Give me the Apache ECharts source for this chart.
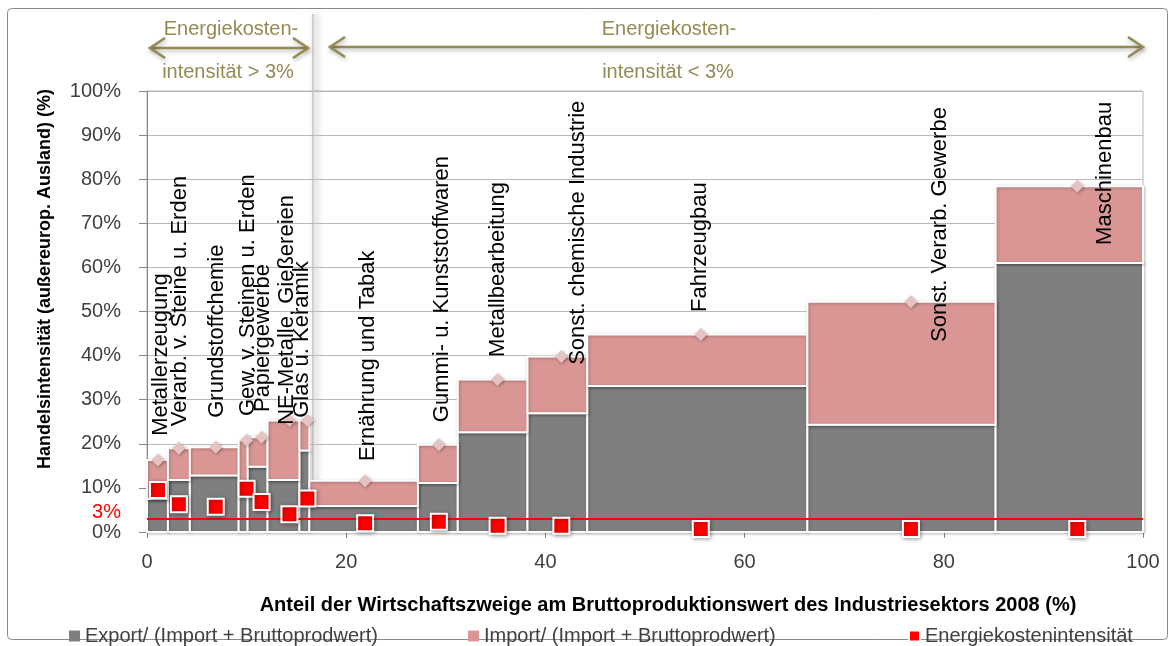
<!DOCTYPE html>
<html>
<head>
<meta charset="utf-8">
<script src="https://cdn.jsdelivr.net/npm/echarts@6/dist/echarts.min.js"></script>
<style>
  html, body { margin: 0; padding: 0; background: #fff; }
  #chart { width: 1175px; height: 646px; }
</style>
</head>
<body>
<div id="chart"></div>
<script>
// Wirtschaftszweige (in Reihenfolge von links nach rechts)
var sectors = [
  'Metallerzeugung', 'Verarb. v. Steine u. Erden', 'Grundstoffchemie',
  'Gew. v. Steinen u. Erden', 'Papiergewerbe', 'NE-Metalle, Gießereien',
  'Glas u. Keramik', 'Ernährung und Tabak', 'Gummi- u. Kunststoffwaren',
  'Metallbearbeitung', 'Sonst. chemische Industrie', 'Fahrzeugbau',
  'Sonst. Verarb. Gewerbe', 'Maschinenbau'
]
// Anteil am Bruttoproduktionswert (%) = Balkenbreite
var productionShare = [2.1, 2.2, 4.9, 0.9, 2.0, 3.2, 1.0, 10.9, 4.0, 7.0, 6.0, 22.1, 18.9, 14.8]
// Export/ (Import + Bruttoprodwert) (%)
var exportShare = [7.5, 11.8, 12.8, 9.5, 14.8, 11.8, 18.5, 5.9, 11.1, 22.6, 26.9, 33.1, 24.3, 61.0]
// Import/ (Import + Bruttoprodwert) (%)
var importShare = [8.8, 7.2, 6.4, 11.3, 6.7, 13.5, 6.8, 5.7, 8.7, 12.0, 12.9, 11.7, 27.9, 17.4]
// Energiekostenintensität (%)
var energyIntensity = [9.5, 6.3, 5.7, 9.8, 6.8, 4.0, 7.6, 2.0, 2.3, 1.4, 1.4, 0.7, 0.7, 0.7]
// x-Position der Punkte (Raute / Quadrat)
var markerX = [1.1, 3.2, 6.9, 10.0, 11.5, 14.3, 16.1, 21.9, 29.3, 35.2, 41.6, 55.6, 76.7, 93.4]
var threshold = 3

// Lage der gedrehten Beschriftungen (x, unteres Ende in %)
var labelAnchor = [
  [1.4, 21.8], [3.3, 24.0], [7.0, 25.9], [10.1, 26.3], [11.6, 27.2], [14.0, 24.3],
  [15.6, 25.9], [22.2, 16.1], [29.6, 24.9], [35.2, 39.7], [43.3, 37.9], [55.5, 49.9],
  [79.6, 43.1], [96.2, 65.1]
]

var FONT = 'Liberation Sans, Arial, sans-serif'
var OLIVE = '#948A54'
var names = ['Export/ (Import + Bruttoprodwert)', 'Import/ (Import + Bruttoprodwert)', 'Energiekostenintensität']

var exportData = []
var importData = []
var left = 0
for (var i = 0; i < productionShare.length; i++) {
  var right = left + productionShare[i]
  exportData.push([left, right, 0, exportShare[i]])
  importData.push([left, right, exportShare[i], exportShare[i] + importShare[i]])
  left = right
}
var totalData = markerX.map(function (x, i) { return [x, exportShare[i] + importShare[i]] })
var energyData = markerX.map(function (x, i) { return [x, energyIntensity[i]] })
var labelData = labelAnchor.map(function (p) { return [p[0], p[1]] })

function barItem (params, api) {
  var p0 = api.coord([api.value(0), api.value(3)])
  var p1 = api.coord([api.value(1), api.value(2)])
  return {
    type: 'rect',
    shape: { x: p0[0], y: p0[1], width: p1[0] - p0[0], height: p1[1] - p0[1] },
    style: {
      fill: api.visual('color'), stroke: '#fff', lineWidth: 2,
      shadowBlur: 3, shadowColor: 'rgba(0,0,0,0.25)', shadowOffsetX: 1, shadowOffsetY: 1
    }
  }
}

function labelItem (params, api) {
  var p = api.coord([api.value(0), api.value(1)])
  return {
    type: 'text',
    x: p[0], y: p[1], rotation: Math.PI / 2,
    style: {
      text: sectors[params.dataIndex], fill: '#000',
      font: '22px ' + FONT, align: 'left', verticalAlign: 'middle'
    }
  }
}

function arrow (x0, x1, y) {
  var s = { stroke: OLIVE, lineWidth: 2.5, fill: null, shadowBlur: 4, shadowColor: 'rgba(0,0,0,0.3)', shadowOffsetX: 1, shadowOffsetY: 2 }
  return [
    { type: 'line', shape: { x1: x0, y1: y, x2: x1, y2: y }, style: s },
    { type: 'polyline', shape: { points: [[x0 + 15, y - 10], [x0, y], [x0 + 15, y + 10]] }, style: s },
    { type: 'polyline', shape: { points: [[x1 - 15, y - 10], [x1, y], [x1 - 15, y + 10]] }, style: s }
  ]
}

function oliveText (text, x, y) {
  return { type: 'text', x: x, y: y, style: { text: text, fill: OLIVE, font: '20px ' + FONT, align: 'center', verticalAlign: 'middle' } }
}

var legendText = { fontSize: 20, color: '#404040', fontFamily: FONT }

var chart = echarts.init(document.getElementById('chart'))
chart.setOption({
  animation: false,
  backgroundColor: '#fff',
  grid: { left: 147, right: 32, top: 91, bottom: 114, show: true, borderColor: '#b5b5b5', borderWidth: 1 },
  xAxis: {
    type: 'value', min: 0, max: 100, interval: 20,
    axisLine: { show: true, lineStyle: { color: '#868686' } },
    axisTick: { show: true, length: 6, lineStyle: { color: '#868686' } },
    splitLine: { show: false },
    axisLabel: { fontSize: 20, color: '#404040', fontFamily: FONT, margin: 20 }
  },
  yAxis: {
    type: 'value', min: 0, max: 100, interval: 10,
    axisLine: { show: true, lineStyle: { color: '#868686' } },
    axisTick: { show: true, length: 8, lineStyle: { color: '#868686' } },
    splitLine: { show: true, lineStyle: { color: '#b9b9b9' } },
    axisLabel: { formatter: '{value}%', fontSize: 20, color: '#404040', fontFamily: FONT, margin: 26 }
  },
  legend: [
    { data: [{ name: names[0], icon: 'rect' }], left: 64, top: 621, itemWidth: 11, itemHeight: 11, textStyle: legendText },
    { data: [{ name: names[1], icon: 'rect' }], left: 463, top: 621, itemWidth: 11, itemHeight: 11, textStyle: legendText },
    { data: [{ name: names[2], icon: 'rect' }], left: 903, top: 621, itemWidth: 11, itemHeight: 11, textStyle: legendText }
  ],
  graphic: [
    { type: 'rect', shape: { x: 7.5, y: 8.5, width: 1160, height: 631, r: 4 }, style: { fill: null, stroke: '#8a8a8a', lineWidth: 1 }, z: 0 },
    { type: 'line', shape: { x1: 313, y1: 14, x2: 313, y2: 532 }, style: { stroke: '#cfcfcf', lineWidth: 2, shadowBlur: 6, shadowColor: 'rgba(0,0,0,0.35)', shadowOffsetX: 3 } },
    { type: 'group', children: arrow(150, 308, 48) },
    { type: 'group', children: arrow(330, 1143, 47) },
    oliveText('Energiekosten-', 231, 29),
    oliveText('intensität > 3%', 228, 72),
    oliveText('Energiekosten-', 669, 29),
    oliveText('intensität < 3%', 668, 72),
    { type: 'text', x: 45, y: 279, rotation: Math.PI / 2,
      style: { text: 'Handelsintensität (außereurop. Ausland) (%)', fill: '#000', font: 'bold 18px ' + FONT, align: 'center', verticalAlign: 'middle' } },
    { type: 'text', x: 668, y: 605,
      style: { text: 'Anteil der Wirtschaftszweige am Bruttoproduktionswert des Industriesektors 2008 (%)', fill: '#000', font: 'bold 20px ' + FONT, align: 'center', verticalAlign: 'middle' } }
  ],
  series: [
    {
      name: names[0], type: 'custom', renderItem: barItem, data: exportData,
      encode: { x: [0, 1], y: [2, 3] }, itemStyle: { color: '#7f7f7f' }, z: 2
    },
    {
      name: names[1], type: 'custom', renderItem: barItem, data: importData,
      encode: { x: [0, 1], y: [2, 3] }, itemStyle: { color: '#d99694' }, z: 2
    },
    {
      name: 'Summe', type: 'scatter', data: totalData, symbol: 'diamond', symbolSize: 13,
      itemStyle: { color: '#e6c3c2', shadowBlur: 3, shadowColor: 'rgba(0,0,0,0.3)', shadowOffsetX: 1, shadowOffsetY: 1, opacity: 1 },
      z: 3
    },
    {
      name: 'Beschriftung', type: 'custom', renderItem: labelItem, data: labelData,
      encode: { x: 0, y: 1 }, silent: true, z: 4
    },
    {
      name: names[2], type: 'scatter', data: energyData, symbol: 'rect', symbolSize: 16,
      itemStyle: { color: '#ff0000', borderColor: '#fff', borderWidth: 2, shadowBlur: 4, shadowColor: 'rgba(0,0,0,0.35)', shadowOffsetX: 1, shadowOffsetY: 1, opacity: 1 },
      z: 5,
      markLine: {
        silent: true, symbol: 'none',
        lineStyle: { color: '#ff0000', width: 2, type: 'solid' },
        label: { show: true, position: 'start', formatter: '3%', color: '#ff0000', fontSize: 20, fontFamily: FONT, distance: 26, offset: [0, -6] },
        data: [{ yAxis: threshold }]
      }
    }
  ]
})
</script>
</body>
</html>
